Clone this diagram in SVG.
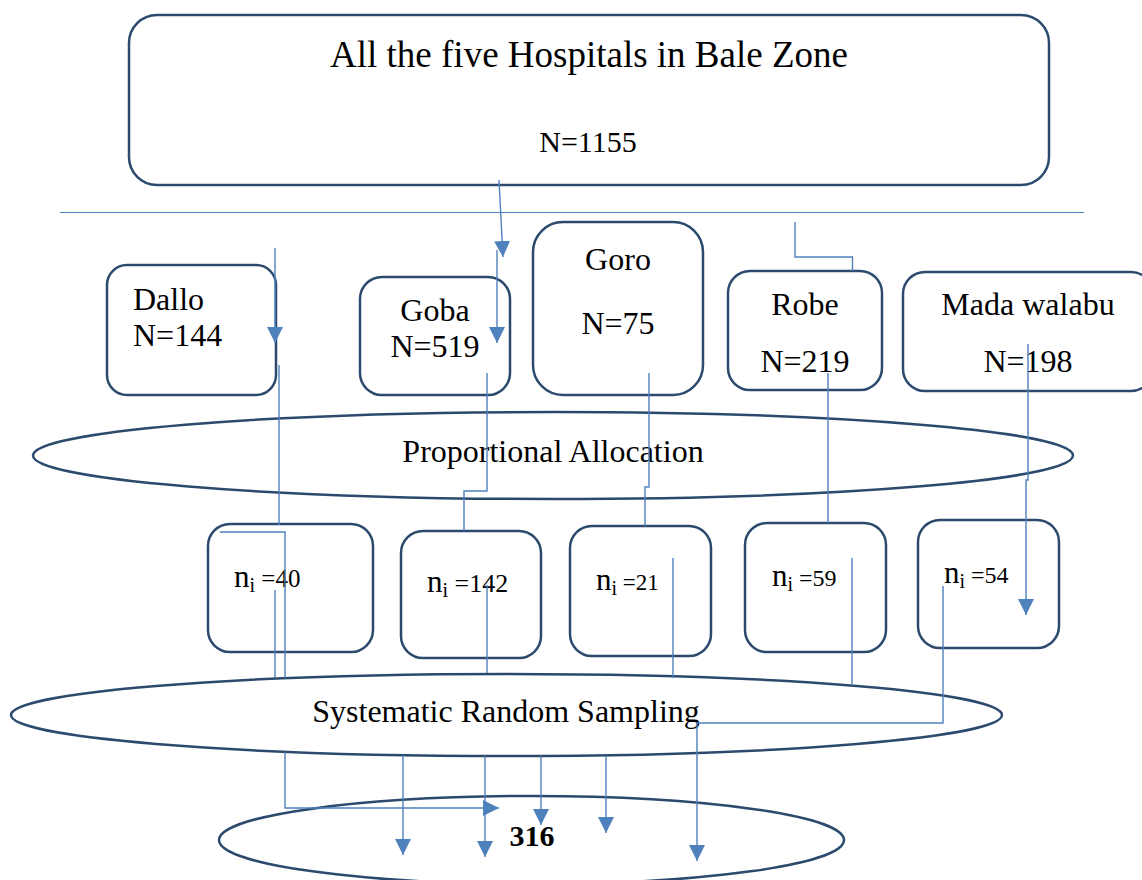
<svg xmlns="http://www.w3.org/2000/svg" width="1142" height="880" viewBox="0 0 1142 880">
<style>
.box{fill:#fff;stroke:#2c4a6e;stroke-width:2.5}
.t{font-family:"Liberation Serif","Times New Roman",serif;fill:#000;font-size:32px}
.c{text-anchor:middle}
.ln{fill:none;stroke:#4f81bd;stroke-width:1.4}
</style>
<defs>
<marker id="ah" markerUnits="userSpaceOnUse" markerWidth="16" markerHeight="16" refX="15" refY="7.5" orient="auto" viewBox="0 0 15 15">
<path d="M0,0 L15,7.5 L0,15 z" fill="#4f81bd"/>
</marker>
</defs>

<g id="top">
<rect class="box" x="129" y="15" width="920" height="170" rx="28"/>
<text class="t c" x="589" y="67" style="font-size:37px">All the five Hospitals in Bale Zone</text>
<text class="t c" x="588" y="152" style="font-size:30px">N=1155</text>
</g>
<line x1="60" y1="212.5" x2="1084" y2="212.5" stroke="#4f81bd" stroke-width="1.2"/>

<g id="dallo">
<rect class="box" x="107" y="265" width="169" height="130" rx="20"/>
<text class="t" x="133" y="310">Dallo</text>
<text class="t" x="133" y="346">N=144</text>
</g>
<g id="goba">
<rect class="box" x="360" y="277" width="150" height="118" rx="22"/>
<text class="t c" x="435" y="321">Goba</text>
<text class="t c" x="435" y="357">N=519</text>
</g>
<g id="goro">
<rect class="box" x="533" y="222" width="170" height="173" rx="30"/>
<text class="t c" x="618" y="270">Goro</text>
<text class="t c" x="618" y="334">N=75</text>
</g>
<g id="robe">
<rect class="box" x="728" y="271" width="154" height="119" rx="22"/>
<text class="t c" x="805" y="315">Robe</text>
<text class="t c" x="805" y="372">N=219</text>
</g>
<g id="mada">
<rect class="box" x="903" y="272" width="250" height="119" rx="22"/>
<text class="t c" x="1028" y="315">Mada walabu</text>
<text class="t c" x="1028" y="372">N=198</text>
</g>

<g id="proportional">
<ellipse class="box" cx="553" cy="455.5" rx="520" ry="43.5"/>
<text class="t c" x="553" y="462">Proportional Allocation</text>
</g>

<g id="n40">
<rect class="box" x="208" y="524" width="165" height="128" rx="22"/>
<text class="t" x="234" y="587"><tspan font-size="31">n</tspan><tspan font-size="20" dy="5">i</tspan><tspan font-size="25" dy="-5"> =40</tspan></text>
</g>
<g id="n142">
<rect class="box" x="401" y="531" width="140" height="127" rx="22"/>
<text class="t" x="427" y="592"><tspan font-size="31">n</tspan><tspan font-size="20" dy="5">i</tspan><tspan font-size="26" dy="-5"> =142</tspan></text>
</g>
<g id="n21">
<rect class="box" x="570" y="526" width="141" height="130" rx="22"/>
<text class="t" x="596" y="590"><tspan font-size="31">n</tspan><tspan font-size="20" dy="5">i</tspan><tspan font-size="23" dy="-5"> =21</tspan></text>
</g>
<g id="n59">
<rect class="box" x="745" y="523" width="141" height="129" rx="22"/>
<text class="t" x="772" y="586"><tspan font-size="31">n</tspan><tspan font-size="20" dy="5">i</tspan><tspan font-size="24" dy="-5"> =59</tspan></text>
</g>
<g id="n54">
<rect class="box" x="918" y="520" width="141" height="128" rx="22"/>
<text class="t" x="944" y="583"><tspan font-size="31">n</tspan><tspan font-size="20" dy="5">i</tspan><tspan font-size="24" dy="-5"> =54</tspan></text>
</g>

<g id="systematic">
<ellipse class="box" cx="506.5" cy="715" rx="495.5" ry="41"/>
<text class="t c" x="506" y="722">Systematic Random Sampling</text>
</g>

<g id="total">
<ellipse class="box" cx="531.5" cy="840" rx="312.5" ry="44"/>
<text class="t c" x="532" y="846" style="font-size:30px;font-weight:bold">316</text>
</g>

<g id="connectors" class="ln">
<path d="M499,180 L503,257" marker-end="url(#ah)"/>
<path d="M497,250 V343" marker-end="url(#ah)"/>
<path d="M275,248 V343" marker-end="url(#ah)"/>
<path d="M795,222 V257 H852.5 V271"/>
<path d="M279,365 V525"/>
<path d="M487,373 V491 H464 V531"/>
<path d="M649,373 V487 H645 V526"/>
<path d="M828,373 V523"/>
<path d="M1028,344 V480 H1026 V615" marker-end="url(#ah)"/>
<path d="M220,532 H285 V678"/>
<path d="M275,590 V678"/>
<path d="M487,585 V673"/>
<path d="M673,558 V678"/>
<path d="M852,558 V684"/>
<path d="M943,586 V723 H697 V861" marker-end="url(#ah)"/>
<path d="M285,752 V808 H499" marker-end="url(#ah)"/>
<path d="M403,755 V855" marker-end="url(#ah)"/>
<path d="M485,756 V857" marker-end="url(#ah)"/>
<path d="M541,756 V825" marker-end="url(#ah)"/>
<path d="M606,756 V833" marker-end="url(#ah)"/>
</g>
</svg>
